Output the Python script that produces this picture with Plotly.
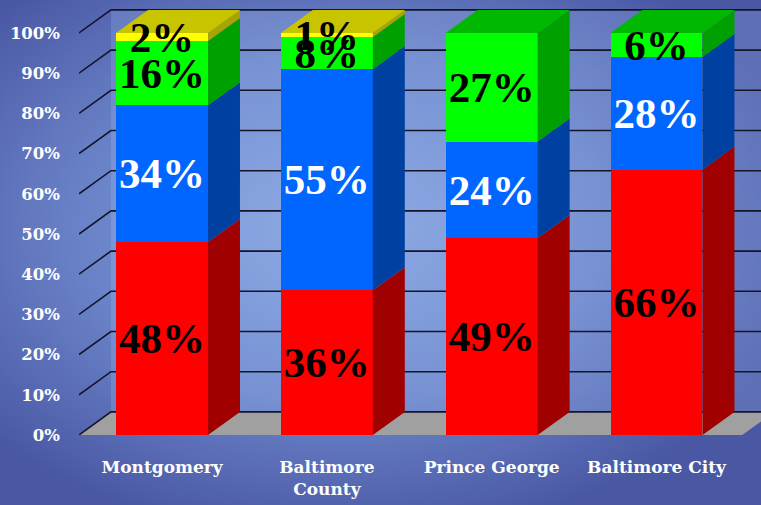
import base64
import plotly.graph_objects as go

# ---------------- data ----------------
categories = ["Montgomery", "Baltimore<br>County", "Prince George", "Baltimore City"]
red_vals = [48, 36, 49, 66]
blue_vals = [34, 55, 24, 28]
green_vals = [16, 8, 27, 6]
yellow_vals = [2, 1, 0, 0]
y_ticks = [0, 10, 20, 30, 40, 50, 60, 70, 80, 90, 100]
y_tick_labels = [f"{v}%" for v in y_ticks]

# ---------------- style / geometry ----------------
series = [
    # values, front, side, top, text colour
    (red_vals, "#ff0000", "#a00000", "#c00000", "black"),
    (blue_vals, "#0066ff", "#0040a0", "#0050d0", "white"),
    (green_vals, "#00ff00", "#00a000", "#00b800", "black"),
    (yellow_vals, "#ffff00", "#a8a400", "#c8c400", "black"),
]
W, H = 761, 505
ML, MR, MT, MB = 79, 0, 0, 70
BAR_W = 0.558
DX = 0.194          # depth offset in category units
DY = 5.74           # depth offset in percent units
LABEL_SHIFT = -1.0  # small downward nudge of the data labels (percent units)
X_RANGE = [-0.5036, 3.634]
Y_RANGE = [0, 108.2]
XL = X_RANGE[0]
FLOOR_RIGHT = 3.52
GRID_COLOR = "#15152a"

idx = list(range(len(categories)))

fig = go.Figure()

# front faces (stacked bars)
for vals, front, side, top, tcol in series:
    fig.add_trace(go.Bar(
        x=idx, y=vals, width=BAR_W, marker=dict(color=front, line=dict(width=0)),
        showlegend=False, hoverinfo="skip"))

# side faces and top faces
bases = [0] * len(categories)
totals = [sum(s[0][i] for s in series) for i in idx]
for vals, front, side, top, tcol in series:
    sx, sy, tx, ty = [], [], [], []
    for i in idx:
        v = vals[i]
        if v <= 0:
            continue
        b = bases[i]
        xr = i + BAR_W / 2
        xl = i - BAR_W / 2
        sx += [xr, xr + DX, xr + DX, xr, xr, None]
        sy += [b, b + DY, b + v + DY, b + v, b, None]
        if abs(b + v - totals[i]) < 1e-9:
            t = b + v
            tx += [xl, xl + DX, xr + DX, xr, xl, None]
            ty += [t, t + DY, t + DY, t, t, None]
    for i in idx:
        bases[i] += vals[i]
    fig.add_trace(go.Scatter(x=sx, y=sy, mode="lines", fill="toself", fillcolor=side,
                             line=dict(width=0, color=side), showlegend=False,
                             hoverinfo="skip"))
    if tx:
        fig.add_trace(go.Scatter(x=tx, y=ty, mode="lines", fill="toself", fillcolor=top,
                                 line=dict(width=0, color=top), showlegend=False,
                                 hoverinfo="skip"))

# data labels
bases = [0] * len(categories)
for vals, front, side, top, tcol in series:
    lx, ly, lt = [], [], []
    for i in idx:
        v = vals[i]
        if v > 0:
            lx.append(i)
            ly.append(bases[i] + v / 2 + LABEL_SHIFT)
            lt.append(f"{v}%")
        bases[i] += v
    fig.add_trace(go.Scatter(
        x=lx, y=ly, text=lt, mode="text", textposition="middle center",
        textfont=dict(family="Liberation Serif", size=43, color=tcol, weight="bold"),
        cliponaxis=False, showlegend=False, hoverinfo="skip"))

# ---------------- walls, floor, gridlines ----------------
shapes = []
shapes.append(dict(type="rect", xref="x", yref="y", x0=XL + DX, x1=X_RANGE[1] + 1,
                   y0=DY, y1=100 + DY, fillcolor="rgba(175,205,255,0.20)",
                   line=dict(width=0), layer="below"))
shapes.append(dict(type="path", xref="x", yref="y",
                   path=f"M{XL},0 L{FLOOR_RIGHT},0 L{FLOOR_RIGHT + DX},{DY} L{XL + DX},{DY} Z",
                   fillcolor="#a0a0a0", line=dict(width=0), layer="below"))
for k in y_ticks:
    shapes.append(dict(type="path", xref="x", yref="y",
                       path=f"M{XL},{k} L{XL + DX},{k + DY} L{X_RANGE[1] + 1},{k + DY}",
                       line=dict(color=GRID_COLOR, width=1.6), layer="below"))

# background gradient
svg = f'''<svg xmlns="http://www.w3.org/2000/svg" width="{W}" height="{H}" viewBox="0 0 {W} {H}" preserveAspectRatio="none">
<defs><radialGradient id="g" cx="0.45" cy="0.45" r="0.62">
<stop offset="0" stop-color="#86a3df"/><stop offset="0.55" stop-color="#6a83c8"/><stop offset="1" stop-color="#4a58a4"/>
</radialGradient></defs><rect width="{W}" height="{H}" fill="url(#g)"/></svg>'''
src = "data:image/svg+xml;base64," + base64.b64encode(svg.encode()).decode()
pw, ph = W - ML - MR, H - MT - MB

fig.update_layout(
    width=W, height=H, margin=dict(l=ML, r=MR, t=MT, b=MB),
    barmode="stack", bargap=0,
    paper_bgcolor="#5a6cb4", plot_bgcolor="rgba(0,0,0,0)",
    shapes=shapes,
    images=[dict(source=src, xref="paper", yref="paper", x=-ML / pw, y=1 + MT / ph,
                 sizex=W / pw, sizey=H / ph, xanchor="left", yanchor="top",
                 sizing="stretch", layer="below")],
    xaxis=dict(range=X_RANGE, tickvals=idx, ticktext=categories, showgrid=False,
               zeroline=False, showline=False, ticks="", ticklabelstandoff=20,
               tickfont=dict(family="DejaVu Serif", size=17, color="white", weight="bold")),
    yaxis=dict(range=Y_RANGE, tickvals=y_ticks, ticktext=y_tick_labels, showgrid=False,
               zeroline=False, showline=False, ticks="", ticklabelstandoff=18,
               tickfont=dict(family="DejaVu Serif", size=16.5, color="white", weight="bold")),
)

fig.write_html("out.html", config={"displayModeBar": False},
               post_script="document.body.style.margin='0';document.body.style.overflow='hidden';")
